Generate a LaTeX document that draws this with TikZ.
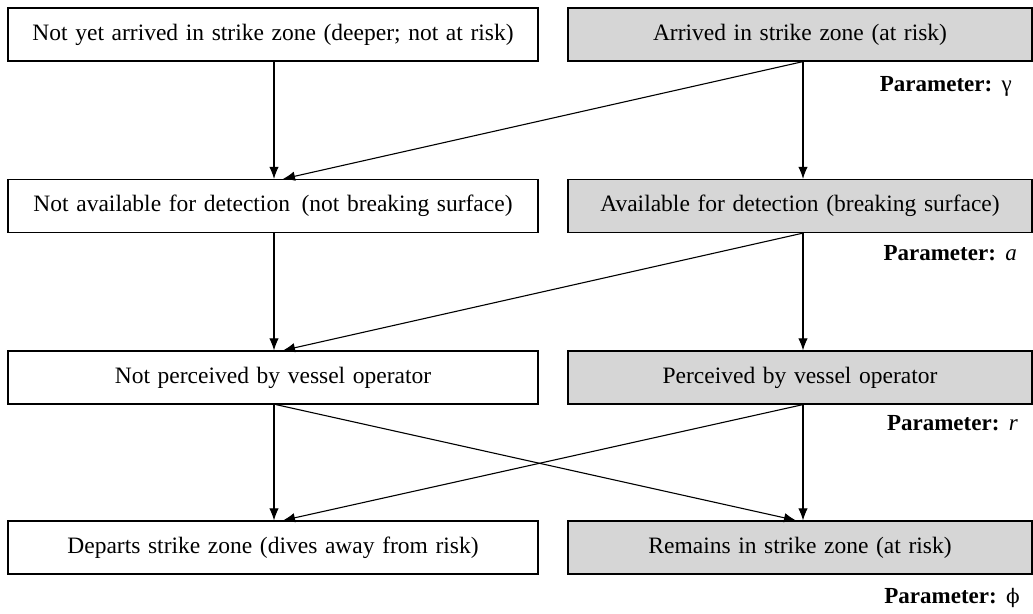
\documentclass[tikz,border=0pt]{standalone}
\usepackage{fontspec}
\setmainfont{Liberation Serif}[WordSpace=1.3]
\newfontfamily\phifont{DejaVu Serif}
\usetikzlibrary{arrows.meta}
\definecolor{boxgray}{RGB}{214,214,214}
\begin{document}
\begin{tikzpicture}[x=1pt,y=-1pt,
  lbox/.style={draw, line width=1.2pt, minimum width=530pt, minimum height=53pt, inner sep=0pt,
    font=\fontsize{23.5}{26}\selectfont},
  rbox/.style={lbox, fill=boxgray, minimum width=464pt},
  arr/.style={line width=1.1pt, -{Latex[length=12pt,width=9.5pt]}},
  param/.style={anchor=east, inner sep=0pt, font=\fontsize{23}{25}\selectfont}]
\useasboundingbox (0,0) rectangle (1033,613);
% left column
\node[lbox] (L1) at (273,34.5) {Not yet arrived in strike zone (deeper; not at risk)};
\node[lbox] (L2) at (273,206) {Not available for detection\, (not breaking surface)};
\node[lbox] (L3) at (273,377.5) {Not perceived by vessel operator};
\node[lbox] (L4) at (273,547.5) {Departs strike zone (dives away from risk)};
% right column
\node[rbox] (R1) at (800,34.5) {Arrived in strike zone (at risk)};
\node[rbox] (R2) at (800,206) {Available for detection (breaking surface)};
\node[rbox] (R3) at (800,377.5) {Perceived by vessel operator};
\node[rbox] (R4) at (800,547.5) {Remains in strike zone (at risk)};
% parameters
\node[param] (P1) at (1012,86) {\textbf{Parameter:} γ};
\node[param] (P2) at (1017,253) {\textbf{Parameter:} \textit{a}};
\node[param] (P3) at (1018,423) {\textbf{Parameter:} \textit{r}};
\node[param] (P4) at (1020,598) {\textbf{Parameter:} {\phifont\fontsize{20}{22}\selectfont ϕ}};
% arrows
\draw[arr] ([xshift=1pt]L1.south) -- ([xshift=1pt]L2.north);
\draw[arr] ([xshift=3pt]R1.south) -- ([xshift=10pt]L2.north);
\draw[arr] ([xshift=3pt]R1.south) -- ([xshift=3pt]R2.north);
\draw[arr] ([xshift=1pt]L2.south) -- ([xshift=1pt]L3.north);
\draw[arr] ([xshift=3pt]R2.south) -- ([xshift=10pt]L3.north);
\draw[arr] ([xshift=3pt]R2.south) -- ([xshift=3pt]R3.north);
\draw[arr] ([xshift=1pt]L3.south) -- ([xshift=1pt]L4.north);
\draw[arr] ([xshift=3pt]L3.south) -- ([xshift=-4pt]R4.north);
\draw[arr] ([xshift=3pt]R3.south) -- ([xshift=10pt]L4.north);
\draw[arr] ([xshift=3pt]R3.south) -- ([xshift=3pt]R4.north);
\end{tikzpicture}
\end{document}
